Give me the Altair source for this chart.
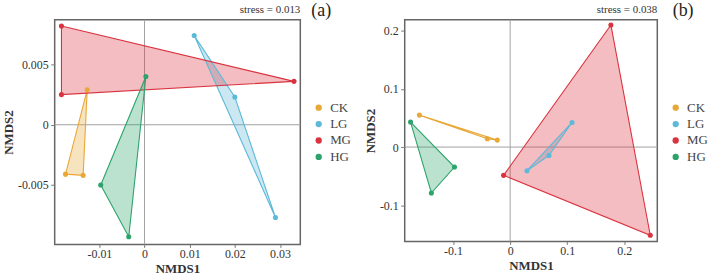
import altair as alt
import pandas as pd

groups = ["CK", "LG", "MG", "HG"]
palette = ["#E8A838", "#5DB9D8", "#D9333F", "#2BA36B"]

# NMDS site scores, three samples per treatment
sample_group = ["CK"] * 3 + ["LG"] * 3 + ["MG"] * 3 + ["HG"] * 3

a_x = [-0.0127, -0.0175, -0.0136,
       0.0110, 0.0200, 0.0290,
       -0.0184, -0.0184, 0.0331,
       0.0003, -0.0097, -0.0035]
a_y = [0.0029, -0.0041, -0.0042,
       0.0074, 0.0023, -0.0077,
       0.0082, 0.0025, 0.0036,
       0.0040, -0.0050, -0.0093]

b_x = [-0.1590, -0.0400, -0.0225,
       0.1085, 0.0680, 0.0295,
       0.1765, 0.2455, -0.0115,
       -0.1745, -0.0975, -0.1380]
b_y = [0.0549, 0.0143, 0.0120,
       0.0423, -0.0143, -0.0406,
       0.2098, -0.1515, -0.0486,
       0.0429, -0.0343, -0.0789]

a_xticks = [-0.01, 0, 0.01, 0.02, 0.03]
a_yticks = [-0.005, 0, 0.005]
b_xticks = [-0.1, 0, 0.1, 0.2]
b_yticks = [-0.1, 0, 0.1, 0.2]

FONT = "Liberation Serif"
LABEL_EXPR = "datum.value < 0 ? '-' + format(-datum.value, '~g') : format(datum.value, '~g')"


def hull_frame(xs, ys):
    """Vertices of each group's triangle, closed by repeating the first one."""
    rows = []
    for g in groups:
        idx = [i for i, s in enumerate(sample_group) if s == g]
        for k, i in enumerate(idx + idx[:1]):
            rows.append({"group": g, "x": xs[i], "y": ys[i], "ord": k})
    return pd.DataFrame(rows)


def panel(xs, ys, xdom, ydom, xticks, yticks, stress, tag, w, h, tag_x):
    pts = pd.DataFrame({"group": sample_group, "x": xs, "y": ys})
    hull = hull_frame(xs, ys)

    color = alt.Color(
        "group:N",
        scale=alt.Scale(domain=groups, range=palette),
        legend=alt.Legend(
            title=None, orient="none", legendX=w + 12, legendY=82,
            labelFont=FONT, labelFontSize=13, labelColor="#444",
            symbolType="circle", symbolSize=40, symbolStrokeWidth=0,
            rowPadding=2.5, labelOffset=5, padding=0,
        ),
    )
    axis_style = dict(
        grid=False, domain=False, labelFont=FONT, titleFont=FONT,
        labelFontSize=12, titleFontSize=13, labelColor="#333", titleColor="#333",
        tickColor="#777", tickWidth=1, titleFontWeight="bold",
        labelExpr=LABEL_EXPR,
    )
    xenc = alt.X(
        "x:Q", scale=alt.Scale(domain=xdom, nice=False, zero=False),
        axis=alt.Axis(values=xticks, title="NMDS1", tickSize=3, labelPadding=1.5,
                      titlePadding=3, **axis_style),
    )
    yenc = alt.Y(
        "y:Q", scale=alt.Scale(domain=ydom, nice=False, zero=False),
        axis=alt.Axis(values=yticks, title="NMDS2", tickSize=4, labelPadding=2.5,
                      titlePadding=2, **axis_style),
    )

    zero = pd.DataFrame({"v": [0]})
    vline = alt.Chart(zero).mark_rule(color="#a0a0a0", strokeWidth=1).encode(x="v:Q")
    hline = alt.Chart(zero).mark_rule(color="#a0a0a0", strokeWidth=1).encode(y="v:Q")

    fill = alt.Chart(hull).mark_line(filled=True, fillOpacity=0.32, interpolate="linear").encode(
        x=xenc, y=yenc, color=color, order="ord:Q", detail="group:N")
    edge = alt.Chart(hull).mark_line(strokeWidth=1.1, interpolate="linear").encode(
        x="x:Q", y="y:Q", color=alt.Color("group:N", legend=None), order="ord:Q", detail="group:N")
    dots = alt.Chart(pts).mark_circle(size=26, opacity=1).encode(
        x="x:Q", y="y:Q", color=alt.Color("group:N", legend=None))

    stress_txt = alt.Chart(pd.DataFrame({"t": [stress]})).mark_text(
        font=FONT, fontSize=11, color="#333", align="right", baseline="alphabetic"
    ).encode(text="t:N", x=alt.value(w), y=alt.value(-7))
    tag_txt = alt.Chart(pd.DataFrame({"t": [tag]})).mark_text(
        font=FONT, fontSize=18, color="#222", align="center", baseline="alphabetic"
    ).encode(text="t:N", x=alt.value(tag_x), y=alt.value(-4))

    return alt.layer(vline, hline, fill, edge, dots, stress_txt, tag_txt).properties(
        width=w, height=h)


pa = panel(a_x, a_y, [-0.0199, 0.0345], [-0.00993, 0.00872], a_xticks, a_yticks,
           "stress = 0.013", "(a)", 247, 226, 268)
pb = panel(b_x, b_y, [-0.1847, 0.2578], [-0.1621, 0.2189], b_xticks, b_yticks,
           "stress = 0.038", "(b)", 254, 223, 280)

chart = alt.hconcat(pa, pb, spacing=11).resolve_scale(color="independent").resolve_legend(
    color="independent"
).properties(
    padding={"left": 1, "top": 0, "right": 0, "bottom": 0},
    background="white",
).configure_view(
    stroke="#666666", strokeWidth=1.5
)

chart.save("out.html", embed_options={"renderer": "svg", "actions": False})
